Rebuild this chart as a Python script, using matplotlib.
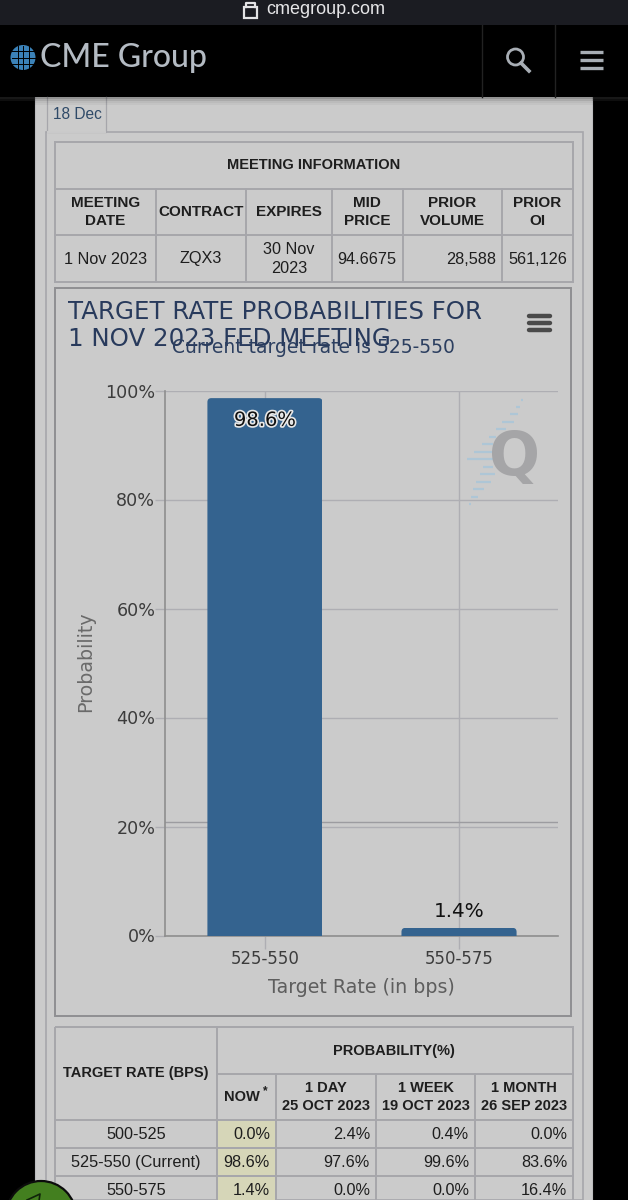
#!/usr/bin/env python3
# -*- coding: utf-8 -*-
"""
CME FedWatch screenshot: target rate probabilities for the 1 Nov 2023 meeting
"""

import matplotlib
matplotlib.use('Agg')
from matplotlib import pyplot as plt
from matplotlib import patheffects
from matplotlib.patches import Rectangle, Circle, FancyBboxPatch

# Chart data
target_rates = ['525-550', '550-575']
probabilities = [98.6, 1.4]
bar_labels = ['98.6%', '1.4%']
y_ticks = [0, 20, 40, 60, 80, 100]
y_tick_labels = ['0%', '20%', '40%', '60%', '80%', '100%']
extra_line_value = 20.8

# Meeting table
meeting_headers = ['MEETING\nDATE', 'CONTRACT', 'EXPIRES', 'MID\nPRICE', 'PRIOR\nVOLUME', 'PRIOR\nOI']
meeting_values = ['1 Nov 2023', 'ZQX3', '30 Nov\n2023', '94.6675', '28,588', '561,126']

# Probability table
prob_headers = ['NOW', '1 DAY\n25 OCT 2023', '1 WEEK\n19 OCT 2023', '1 MONTH\n26 SEP 2023']
prob_rows = ['500-525', '525-550 (Current)', '550-575']
prob_now = ['0.0%', '98.6%', '1.4%']
prob_day = ['2.4%', '97.6%', '0.0%']
prob_week = ['0.4%', '99.6%', '0.0%']
prob_month = ['0.0%', '83.6%', '16.4%']

# Colours
PANEL = '#cbcbcb'
LINE = '#a6a6ab'
DARK = '#1e1e1e'
BAR = '#34638f'
NAVY = '#283a5c'
GRID = '#aeaeb3'

PX = 0.72  # font px -> pt at dpi 100
ARIAL = 'Liberation Sans'

fig = plt.figure(figsize=(6.28, 12), dpi=100, facecolor='black')

# Page layer in pixel coordinates
bg = fig.add_axes([0, 0, 1, 1])
bg.set_xlim(0, 628)
bg.set_ylim(1200, 0)
bg.axis('off')


def box(x0, y0, x1, y1, face='none', edge='none', lw=1.4, z=1):
    bg.add_patch(Rectangle((x0, y0), x1 - x0, y1 - y0, facecolor=face,
                           edgecolor=edge, linewidth=lw, zorder=z))


def label(x, y, s, size=15.2, weight='normal', color=DARK, ha='center', family=ARIAL, z=5, spacing=1.3):
    return bg.text(x, y, s, fontsize=size * PX, fontweight=weight, color=color, ha=ha,
                   va='center', family=family, zorder=z, linespacing=spacing)


# Browser bar and site header
box(0, 0, 628, 25, face='#1b1c22')
box(0, 25, 628, 97, face='#000000')
box(243.5, 7, 257, 18, edge='#e4e4e6', lw=1.6, z=3)
bg.plot([246, 246, 254.5, 254.5], [7, 3, 3, 7], color='#e4e4e6', lw=1.6, zorder=3)
label(266, 9.5, 'cmegroup.com', size=18, color='#e6e6e8', ha='left')

bg.add_patch(Circle((23, 57.5), 12.5, facecolor='#3b82b8', edgecolor='none', zorder=3))
for yy in [51, 57.5, 64]:
    bg.plot([11.5, 34.5], [yy, yy], color='black', lw=0.7, zorder=4)
for xx in [17.5, 23, 28.5]:
    bg.plot([xx, xx], [45.5, 69.5], color='black', lw=0.7, zorder=4)
label(40, 58, 'CME Group', size=32, weight='medium', color='#b4bbc3', ha='left', family='Lato')
bg.plot([482, 482], [25, 97], color='#222222', lw=1)
bg.plot([555, 555], [25, 97], color='#222222', lw=1)
bg.add_patch(Circle((515.5, 57), 8, facecolor='none', edgecolor='#a8aeb5', lw=2, zorder=3))
bg.plot([521, 529], [63, 71], color='#a8aeb5', lw=2.6, zorder=3)
for yy in [52, 60, 68]:
    bg.plot([580, 603], [yy, yy], color='#a8aeb5', lw=2.4, zorder=3, solid_capstyle='butt')

# Page panel and tab
box(35, 97, 592, 1200, face=PANEL, z=0.5)
bg.plot([35, 35], [97, 1200], color='#bcbcbf', lw=0.8, zorder=0.6)
bg.plot([592, 592], [97, 1200], color='#bcbcbf', lw=0.8, zorder=0.6)
box(46, 132, 583, 1200, edge=LINE, lw=1.2)
bg.plot([47, 47, 106, 106], [97, 132, 132, 97], color=LINE, lw=0.9, zorder=1.5)
bg.plot([47.6, 105.4], [132, 132], color=PANEL, lw=1.4, zorder=1.6)
label(77, 114.5, '18 Dec', size=15.5, color='#2f4a68', spacing=1)

# Soft header shadow
for k, alpha in enumerate([0.28, 0.16, 0.08, 0.04]):
    box(0, 97 + k * 2, 628, 99 + k * 2, face=(0, 0, 0, alpha), z=2)
for k, alpha in enumerate([0.28, 0.16]):
    for x0, x1 in [(0, 35), (592, 628)]:
        box(x0, 97 + k * 2, x1, 99 + k * 2, face=(0.35, 0.35, 0.35, alpha), z=2.1)

# Meeting information table
mx = [55, 155.5, 246, 331.5, 403, 502, 573]
my = [142, 189, 235, 282]
box(mx[0], my[0], mx[-1], my[-1], edge=LINE, z=2)
for yy in my[1:-1]:
    bg.plot([mx[0], mx[-1]], [yy, yy], color=LINE, lw=1.4, zorder=2)
for xx in mx[1:-1]:
    bg.plot([xx, xx], [my[1], my[-1]], color=LINE, lw=1.4, zorder=2)
label(314, 165, 'MEETING INFORMATION', size=14.6, weight='bold')
for i, head in enumerate(meeting_headers):
    cx = (mx[i] + mx[i + 1]) / 2
    label(cx, 212, head, size=15.2, weight='bold')
    if meeting_values[i] == '28,588':
        label(mx[i + 1] - 6, 259, meeting_values[i], ha='right', size=16.2)
    else:
        label(cx, 259, meeting_values[i], size=16.2)

# Chart box
box(55, 288, 571, 1016, edge='#8f8f92', lw=1.4, z=2)
label(68, 312, 'TARGET RATE PROBABILITIES FOR', size=24.5, color=NAVY, ha='left', family='DejaVu Sans')
label(68, 338.5, '1 NOV 2023 FED MEETING', size=24.5, color=NAVY, ha='left', family='DejaVu Sans')
label(313.5, 347.5, 'Current target rate is 525-550', size=18.8, color='#2c3f60', family='DejaVu Sans', z=6)
for yy in [316, 323, 330]:
    bg.plot([529, 550], [yy, yy], color='#4a4a4a', lw=3.2, zorder=3, solid_capstyle='round')

# Watermark logo, row y with dash start and end
logo_dashes = [(400, 521, 523), (407, 516, 520), (414, 510, 518), (422, 502, 514),
               (429, 496, 506), (437, 489, 496), (444, 482, 493), (452, 474, 493),
               (459, 467, 493), (467, 483, 493), (474, 480, 495), (482, 476, 491),
               (489, 473, 484), (497, 471, 478), (504, 469, 471)]
for yy, x0, x1 in logo_dashes:
    bg.plot([x0, x1], [yy, yy], color='#aec6d6', lw=1.6, zorder=3, solid_capstyle='butt')
label(514, 459, 'Q', size=60, weight='bold', color='#a5a5a7', family='DejaVu Sans', z=3)

# The chart itself
ax = fig.add_axes([165 / 628, (1200 - 935.5) / 1200, (558 - 165) / 628, (935.5 - 390.5) / 1200])
ax.patch.set_alpha(0)
ax.set_xlim(-0.515, 1.51)
ax.set_ylim(0, 100)
for side in ['top', 'right']:
    ax.spines[side].set_visible(False)
for side in ['left', 'bottom']:
    ax.spines[side].set_color('#8e8e8e')
    ax.spines[side].set_linewidth(1.2)
ax.set_axisbelow(True)
ax.grid(True, axis='both', color=GRID, linewidth=1)
ax.axhline(extra_line_value, color='#9c9ca0', linewidth=1, zorder=1)
positions = list(range(len(target_rates)))
bars = ax.bar(positions, probabilities, width=0.593, color=BAR, zorder=3)

# Rounded top corners: clip each bar with a taller rounded box
for bar in bars:
    clip = FancyBboxPatch((bar.get_x(), -5), bar.get_width(), bar.get_height() + 5,
                          boxstyle='round,pad=0,rounding_size=0.02', mutation_aspect=36,
                          transform=ax.transData, facecolor='none', edgecolor='none')
    ax.add_patch(clip)
    bar.set_clip_path(clip)

ax.annotate(bar_labels[0], (positions[0], probabilities[0]), xytext=(0, -16), textcoords='offset points',
            ha='center', va='center', fontsize=19.5 * PX, color='#111111', zorder=5,
            path_effects=[patheffects.withStroke(linewidth=2.4, foreground='#e8e8e8')])
ax.annotate(bar_labels[1], (positions[1], probabilities[1]), xytext=(0, 12), textcoords='offset points',
            ha='center', va='center', fontsize=20 * PX, color='#111111', zorder=5)

ax.set_xticks(positions)
ax.set_xticklabels(target_rates, fontsize=16.5 * PX, color='#3c3c3c')
ax.set_yticks(y_ticks)
ax.set_yticklabels(y_tick_labels, fontsize=17.5 * PX, color='#3c3c3c')
ax.tick_params(axis='x', length=9.5, width=1, color=GRID, pad=1)
ax.tick_params(axis='y', length=7, width=1, color=GRID, pad=0)
ax.set_xlabel('Target Rate (in bps)', fontsize=19 * PX, color='#5e5e5e')
ax.xaxis.set_label_coords((361.5 - 165) / (558 - 165), -(978 - 935.5) / 545, transform=ax.transAxes)
ax.set_ylabel('Probability', fontsize=19 * PX, color='#6a6a6a')
ax.yaxis.set_label_coords((95 - 165) / (558 - 165), (935.5 - 662) / 545, transform=ax.transAxes)

# Probability table
px_ = [55, 217, 276, 376, 475, 573]
py_ = [1027, 1074, 1120, 1147.5, 1175.5, 1203]
box(px_[1], py_[2], px_[2], py_[5], face='#d6d6b8', z=1.5)
box(px_[0], py_[0], px_[-1], py_[-1], edge=LINE, z=2)
bg.plot([px_[1], px_[-1]], [py_[1], py_[1]], color=LINE, lw=1.4, zorder=2)
for yy in py_[2:-1]:
    bg.plot([px_[0], px_[-1]], [yy, yy], color=LINE, lw=1.4, zorder=2)
bg.plot([px_[1], px_[1]], [py_[0], py_[-1]], color=LINE, lw=1.4, zorder=2)
for xx in px_[2:-1]:
    bg.plot([xx, xx], [py_[1], py_[-1]], color=LINE, lw=1.4, zorder=2)
label(136, 1073, 'TARGET RATE (BPS)', size=14.6, weight='bold')
label(394, 1050.5, 'PROBABILITY(%)', size=14.6, weight='bold')
label(242, 1097, prob_headers[0], size=14.6, weight='bold')
label(265, 1091, '*', size=12, weight='bold')
for i, head in enumerate(prob_headers[1:]):
    label((px_[i + 2] + px_[i + 3]) / 2, 1097, head, size=14.6, weight='bold')
row_y = [1134.5, 1162.5, 1190.5]
for j, yy in enumerate(row_y):
    label(136, yy, prob_rows[j], size=16.2)
    for i, col in enumerate([prob_now, prob_day, prob_week, prob_month]):
        label(px_[i + 2] - 6, yy, col[j], ha='right', size=16.2)

# Corner of the floating green button
bg.add_patch(Circle((41, 1216), 35, facecolor='#437f1f', edgecolor='#0c0c0c', lw=1.6, zorder=6))
bg.plot([27, 40, 39], [1200, 1194, 1201], color='#10240a', lw=1.2, zorder=7)

fig.savefig('out.png', dpi=100, facecolor='black')
